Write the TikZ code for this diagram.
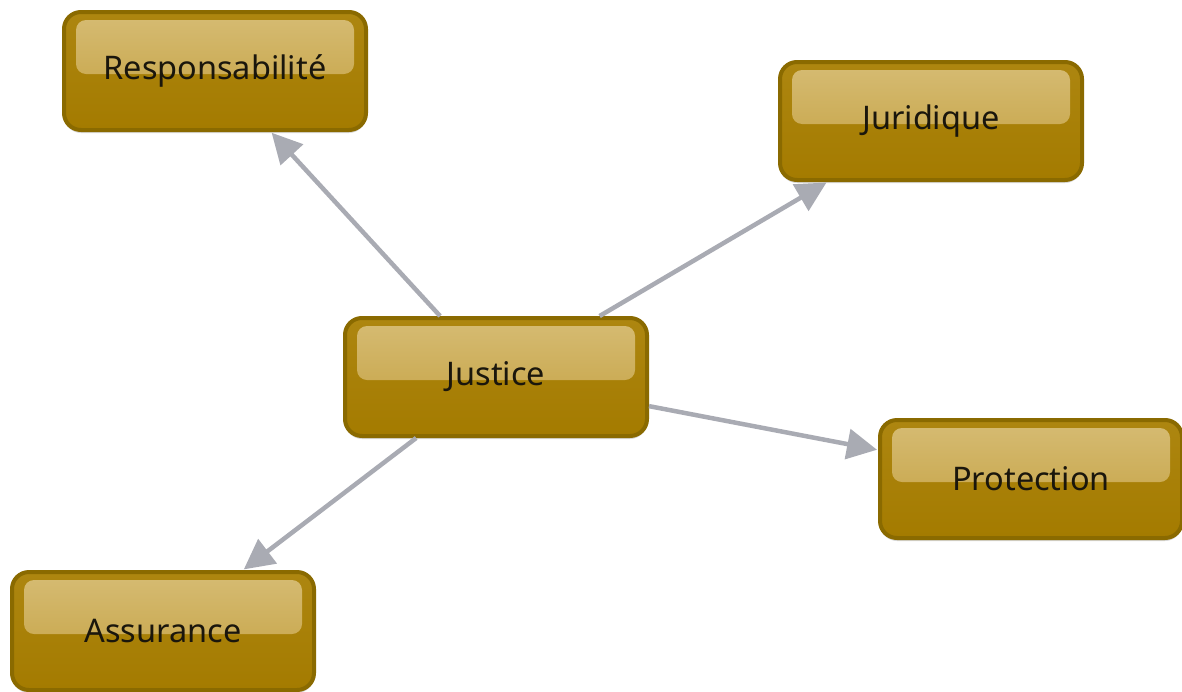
\documentclass[tikz,border=0pt]{standalone}
\usepackage{fontspec}
\setmainfont{Noto Sans}
\usetikzlibrary{arrows.meta,shadows}
\definecolor{bordergold}{HTML}{8A6A00}
\definecolor{maingold}{HTML}{A47B00}
\definecolor{maingoldtop}{HTML}{AD8610}
\definecolor{hltop}{HTML}{D6BC74}
\definecolor{hlbot}{HTML}{C29E3C}
\definecolor{arrowgray}{HTML}{A9ABB3}
\definecolor{txt}{HTML}{1A160C}
\tikzset{
  gbox/.style={rounded corners=17pt, draw=bordergold, line width=4pt,
    minimum width=302pt, minimum height=118pt, inner sep=0pt,
    top color=maingoldtop, bottom color=maingold,
    drop shadow={shadow xshift=0pt, shadow yshift=-3pt, opacity=0.25, fill=black!60},
    font=\fontsize{32.5}{36}\selectfont, text=txt,
    path picture={
      \shade[top color=hltop, bottom color=hlbot, rounded corners=10pt]
        ([xshift=12pt,yshift=-8pt]path picture bounding box.north west)
        rectangle ([xshift=-12pt,yshift=-62pt]path picture bounding box.north east);
    }},
  conn/.style={draw=arrowgray, line width=4.5pt,
    -{Triangle[length=30pt,width=30pt]}, shorten >=1pt}
}
\begin{document}
\begin{tikzpicture}[x=1pt,y=-1pt]
\useasboundingbox (0,0) rectangle (1182,691);
\node[gbox] (resp) at (215,71) {Responsabilité};
\node[gbox] (jur) at (931,121) {Juridique};
\node[gbox] (just) at (496,377) {Justice};
\node[gbox] (prot) at (1031,479) {Protection};
\node[gbox] (ass) at (163,631) {Assurance};
\draw[conn] (just) -- (resp);
\draw[conn] (just) -- (jur);
\draw[conn] (just) -- (prot);
\draw[conn] (just) -- (ass);
\end{tikzpicture}
\end{document}
